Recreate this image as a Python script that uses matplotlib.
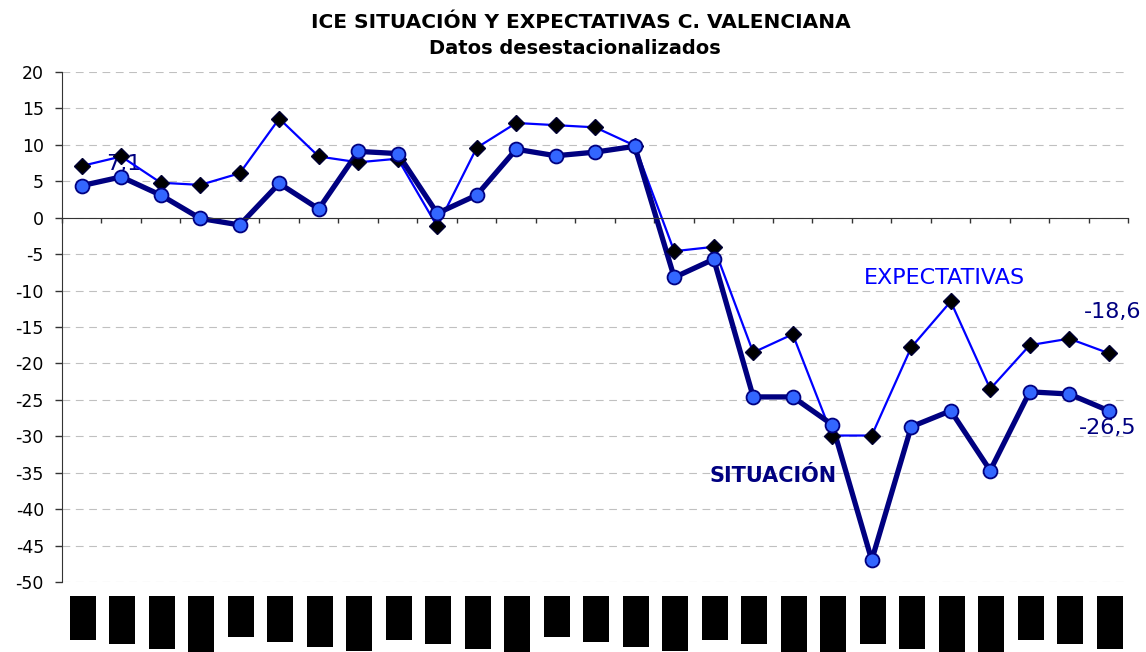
import numpy as np
import matplotlib
matplotlib.use("Agg")
import matplotlib.pyplot as plt
from matplotlib.patches import Rectangle
from matplotlib.transforms import blended_transform_factory

plt.rcParams['font.family'] = ['DejaVu Sans']
plt.rcParams['axes.unicode_minus'] = False

# data (27 periods, category labels hidden in the source)
expectativas = [7.1, 8.4, 4.8, 4.5, 6.1, 13.6, 8.4, 7.6, 8.1, -1.2, 9.6, 13.0, 12.7, 12.4,
                9.9, -4.6, -4.0, -18.5, -16.0, -29.9, -29.9, -17.8, -11.5, -23.5, -17.5, -16.6, -18.6]
situacion = [4.4, 5.6, 3.1, -0.1, -1.0, 4.7, 1.2, 9.1, 8.8, 0.6, 3.1, 9.4, 8.5, 9.0,
             9.8, -8.2, -5.7, -24.6, -24.6, -28.4, -47.0, -28.7, -26.5, -34.7, -23.9, -24.2, -26.5]
yticks = list(range(-50, 25, 5))

# redacted tick label boxes: length in pixels below the top of the box
label_box_len = [44, 48, 53, 56, 41, 46, 51, 55, 44, 48, 53, 56, 41, 46, 51, 55,
                 44, 48, 56, 56, 48, 53, 56, 56, 44, 48, 53]

x = np.arange(len(situacion)) + 0.5

NAVY = '#000080'
BLUE = '#0000FF'

fig = plt.figure(figsize=(11.46, 6.52), dpi=100, facecolor='white')
ax = fig.add_axes([0.0541, 0.1074, 0.9306, 0.7822])

ax.set_xlim(0, len(situacion))
ax.set_ylim(-50, 20)
ax.set_yticks(yticks)
ax.set_yticklabels([str(v) for v in yticks], fontsize=12.5)
ax.set_xticks(np.arange(len(situacion) + 1))
ax.set_xticklabels([])

ax.yaxis.grid(True, color='#C0C0C0', linewidth=0.8, linestyle=(0, (7, 5)), zorder=0)
ax.set_axisbelow(True)
for s in ['top', 'right']:
    ax.spines[s].set_visible(False)
ax.spines['bottom'].set_position(('data', 0))
ax.spines['bottom'].set_color('#333333')
ax.spines['left'].set_color('#333333')
ax.tick_params(axis='y', direction='out', length=5, width=1, color='#333333', pad=8)
ax.tick_params(axis='x', direction='out', length=3.5, width=1, color='#333333')

# lines first, then markers (like the spreadsheet rendering)
ax.plot(x, expectativas, color=BLUE, linewidth=1.6, zorder=2)
ax.plot(x, situacion, color=NAVY, linewidth=3.8, zorder=2.5)
ax.plot(x, expectativas, linestyle='none', marker='D', markersize=8.2,
        markerfacecolor='black', markeredgecolor='#000033', markeredgewidth=1, zorder=3)
ax.plot(x, situacion, linestyle='none', marker='o', markersize=10,
        markerfacecolor='#3366FF', markeredgecolor=NAVY, markeredgewidth=1.3, zorder=4)

# labels
ax.text(1.57, 7.4, '7,1', color=NAVY, fontsize=16, ha='center', va='center', zorder=1.5)
ax.text(22.33, -8.3, 'EXPECTATIVAS', color=BLUE, fontsize=16, ha='center', va='center', zorder=1.5)
ax.text(18.0, -35.5, 'SITUACIÓN', color=NAVY, fontsize=15, fontweight='bold',
        ha='center', va='center', zorder=1.5)
ax.text(26.6, -13.0, '-18,6', color=NAVY, fontsize=16, ha='center', va='center', zorder=1.5)
ax.text(26.48, -28.9, '-26,5', color=NAVY, fontsize=16, ha='center', va='center', zorder=1.5)

# title
fig.text(0.507, 1 - 23 / 652, 'ICE SITUACIÓN Y EXPECTATIVAS C. VALENCIANA',
         ha='center', va='center', fontsize=14.5, fontweight='bold')
fig.text(0.502, 1 - 48.5 / 652, 'Datos desestacionalizados',
         ha='center', va='center', fontsize=14, fontweight='bold')

# black boxes covering the category labels
trans = blended_transform_factory(ax.transData, fig.transFigure)
H = 652.0
for xi, ln in zip(x, label_box_len):
    top = 1 - 596 / H
    ax.add_patch(Rectangle((xi - 0.33 + 0.03, top - ln / H), 0.66, ln / H,
                           transform=trans, facecolor='black', edgecolor='none',
                           clip_on=False))

fig.savefig('out.png', dpi=100)
